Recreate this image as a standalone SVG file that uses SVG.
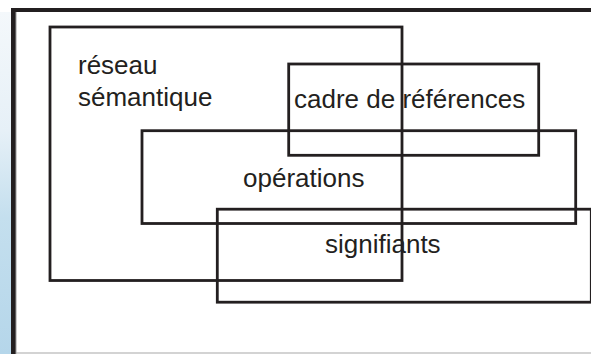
<svg xmlns="http://www.w3.org/2000/svg" width="591" height="354" viewBox="0 0 591 354">
  <defs>
    <linearGradient id="bg" x1="0" y1="0" x2="0" y2="1">
      <stop offset="0" stop-color="#f4f8fb"/>
      <stop offset="0.35" stop-color="#e6f0f7"/>
      <stop offset="0.6" stop-color="#c4dfee"/>
      <stop offset="1" stop-color="#b5d6ea"/>
    </linearGradient>
    <style>
      .box { fill: none; stroke: #231f20; stroke-width: 2.8; }
      .lbl { font-family: "Liberation Sans", Arial, Helvetica, sans-serif; font-size: 26px; fill: #231f20; }
    </style>
  </defs>
  <rect x="0" y="0" width="591" height="354" fill="#ffffff"/>
  <rect x="0" y="12" width="11" height="342" fill="url(#bg)"/>
  <g id="frame">
    <line x1="11" y1="10" x2="591" y2="10" stroke="#231f20" stroke-width="4"/>
    <line x1="13.5" y1="8" x2="13.5" y2="354" stroke="#231f20" stroke-width="5"/>
    <line x1="16" y1="12" x2="16" y2="354" stroke="#9a9a9a" stroke-width="1"/>
    <line x1="16" y1="353" x2="591" y2="353" stroke="#a8a8a8" stroke-width="1.2"/>
  </g>
  <g id="reseau-semantique">
    <rect class="box" x="50" y="27" width="352" height="253.5"/>
    <text class="lbl" x="78" y="74">réseau</text>
    <text class="lbl" x="78" y="106">sémantique</text>
  </g>
  <g id="cadre-de-references">
    <rect class="box" x="288.7" y="64" width="250" height="91.3"/>
    <text class="lbl" x="294" y="108">cadre de références</text>
  </g>
  <g id="operations">
    <rect class="box" x="142" y="130.7" width="433.7" height="92.8"/>
    <text class="lbl" x="243" y="187">opérations</text>
  </g>
  <g id="signifiants">
    <rect class="box" x="217.3" y="209.2" width="374" height="93"/>
    <text class="lbl" x="325" y="253">signifiants</text>
  </g>
  <g id="connectors"/>
</svg>
